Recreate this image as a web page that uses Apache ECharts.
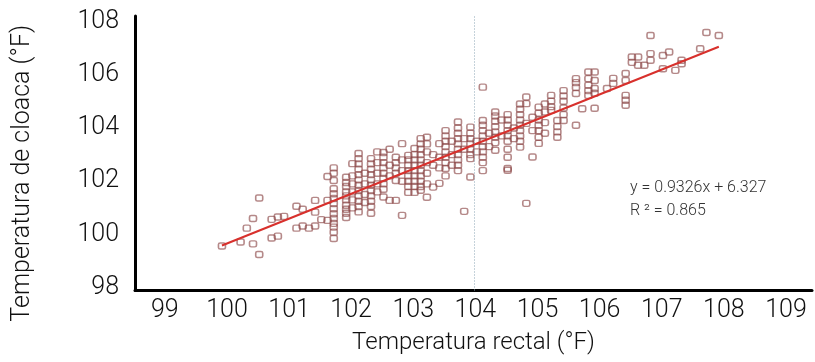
<!DOCTYPE html>
<html>
<head>
<meta charset="utf-8">
<script src="https://cdn.jsdelivr.net/npm/echarts@6/dist/echarts.min.js"></script>
<style>
html,body{margin:0;padding:0;background:#fff;}
#chart{width:815px;height:362px;}
</style>
</head>
<body>
<div id="chart"></div>
<script>
// Scatter data, grouped by rectal temperature column (°F)
const columnX = [100.0,100.3,100.4,100.5,100.6,100.8,100.9,101.0,101.2,101.3,101.4,101.5,101.6,101.7,101.8,
  102.0,102.1,102.2,102.3,102.4,102.5,102.6,102.7,102.8,102.9,103.0,103.1,103.2,103.3,103.4,103.5,103.6,103.7,
  103.8,103.9,104.0,104.1,104.2,104.3,104.4,104.5,104.6,104.7,104.8,104.9,105.0,105.1,105.2,105.3,105.4,105.5,
  105.7,105.8,105.9,106.0,106.2,106.3,106.5,106.6,106.7,106.8,106.9,107.1,107.2,107.3,107.4,107.7,107.8,108.0];
const columnY = [
  [99.57],
  [99.72],
  [100.24],
  [100.6, 99.65],
  [101.37, 99.25],
  [100.57, 99.87],
  [100.66, 99.94],
  [100.68],
  [101.06, 100.24],
  [100.95, 100.32],
  [100.24],
  [101.28, 100.84, 100.32],
  [100.56],
  [102.18, 101.28, 100.53],
  [102.5, 102.3, 102.03, 101.72, 101.53, 101.35, 101.16, 100.97, 100.78, 100.6, 100.42, 100.28, 100.09, 99.85],
  [102.15, 101.95, 101.8, 101.6, 101.45, 101.3, 101.1, 100.95, 100.8, 100.64],
  [102.66, 102.2, 101.9, 101.6, 101.3, 101.0],
  [103.04, 102.85, 102.65, 102.45, 102.25, 102.05, 101.85, 101.65, 101.45, 101.25, 101.05, 100.85],
  [102.3, 101.9, 101.5, 101.2],
  [102.85, 102.65, 102.45, 102.25, 102.05, 101.85, 101.65, 101.45, 101.25, 101.05, 100.8],
  [103.1, 102.7, 102.3, 101.9, 101.6],
  [103.08, 102.9, 102.7, 102.5, 102.3, 102.1, 101.9, 101.7, 101.41],
  [103.2, 102.6, 102.2, 101.28],
  [102.9, 102.7, 102.5, 102.3, 102.03, 101.28],
  [103.41, 102.8, 102.4, 102.0, 100.72],
  [102.97, 102.8, 102.6, 102.4, 102.2, 102.0, 101.8, 101.58],
  [103.23, 103.0, 102.8, 102.6, 102.4, 102.2, 102.0, 101.8, 101.58],
  [103.6, 103.4, 103.2, 103.0, 102.8, 102.6, 102.4, 102.2, 102.0, 101.8, 101.66],
  [103.65, 103.4, 103.1, 102.7, 102.3, 101.9, 101.4],
  [103.0, 102.6, 101.78],
  [103.41, 102.9, 102.5, 101.92],
  [103.9, 103.7, 103.5, 103.3, 103.1, 102.9, 102.7, 102.48, 102.2],
  [103.5, 103.0, 102.6],
  [104.22, 104.0, 103.8, 103.6, 103.4, 103.2, 103.0, 102.8, 102.6, 102.4],
  [103.6, 103.2, 100.87],
  [104.03, 103.8, 103.6, 103.4, 103.2, 103.0, 102.85, 102.16],
  [103.5, 103.1],
  [105.53, 104.28, 104.1, 103.9, 103.7, 103.5, 103.3, 103.1, 102.9, 102.7, 102.4],
  [103.8, 103.3],
  [104.6, 104.45, 104.25, 104.05, 103.85, 103.65, 103.45, 103.16],
  [104.3, 103.7],
  [104.5, 104.3, 104.1, 103.9, 103.7, 103.5, 103.2, 102.9, 102.48, 102.41],
  [104.0, 103.6],
  [104.9, 104.7, 104.5, 104.3, 104.1, 103.9, 103.7, 103.5, 103.28],
  [105.16, 104.91, 104.17, 101.17],
  [104.4, 103.9, 102.91],
  [104.78, 104.55, 104.3, 104.1, 103.9, 103.65, 103.42],
  [104.9, 104.6, 104.2, 103.8],
  [105.22, 105.0, 104.8, 104.66],
  [104.28, 104.05, 103.85, 103.65],
  [105.4, 105.2, 105.0, 104.75, 104.5, 104.28],
  [105.85, 105.7, 105.52, 105.29, 104.1],
  [104.72],
  [106.1, 105.85, 105.6, 105.4, 105.22],
  [106.1, 105.78, 105.48, 105.3, 104.74],
  [105.48],
  [105.86, 105.67],
  [106.04, 105.78, 105.22, 105.04, 104.85],
  [106.66, 106.46],
  [106.66, 106.35],
  [106.35],
  [107.47, 106.79, 106.54],
  [106.72, 106.22],
  [106.85],
  [106.16],
  [106.54, 106.41],
  [106.97],
  [107.58],
  [107.47]
];
// Trend line as printed on the chart
const slope = 0.9326;
const intercept = 6.327;
const trendRange = [100, 108];
const equationText = 'y = 0.9326x + 6.327';
const r2Text = 'R ² = 0.865';
const xTickLabels = [99,100,101,102,103,104,105,106,107,108,109];
const yTickLabels = [98,100,102,104,106,108];
const guideX = 104.07;

const points = [];
columnX.forEach((x, i) => columnY[i].forEach(y => points.push([x, y])));
const trend = trendRange.map(x => [x, slope * x + intercept]);

const FONT = "Roboto, 'Liberation Sans', sans-serif";
const near = (v, list) => list.find(t => Math.abs(v - t) < 1e-6);

const chart = echarts.init(document.getElementById('chart'), null, {renderer: 'canvas'});
chart.setOption({
  backgroundColor: '#ffffff',
  animation: false,
  grid: {left: 135, right: 0, top: 16, bottom: 71.5, containLabel: false},
  xAxis: {
    type: 'value', min: 98.6, max: 109.5, interval: 0.1,
    name: 'Temperatura rectal (°F)', nameLocation: 'middle', nameGap: 40,
    nameTextStyle: {fontFamily: FONT, fontWeight: 300, fontSize: 24, color: '#111'},
    axisLine: {show: true, onZero: false, lineStyle: {color: '#000', width: 3}},
    axisTick: {show: false}, splitLine: {show: false},
    axisLabel: {
      margin: 8, fontFamily: FONT, fontWeight: 300, fontSize: 25, color: '#111', padding: [0,0,0,10],
      formatter: v => { const t = near(v, xTickLabels); return t === undefined ? '' : String(t); }
    }
  },
  yAxis: {
    type: 'value', min: 97.9, max: 108.2, interval: 0.1,
    name: 'Temperatura de cloaca (°F)', nameLocation: 'middle', nameGap: 100,
    nameTextStyle: {fontFamily: FONT, fontWeight: 300, fontSize: 25, color: '#111', padding: [0, 40, 0, 0]},
    axisLine: {show: true, onZero: false, lineStyle: {color: '#000', width: 3}},
    axisTick: {show: false}, splitLine: {show: false},
    axisLabel: {
      margin: 16, fontFamily: FONT, fontWeight: 300, fontSize: 25, color: '#111',
      formatter: v => { const t = near(v, yTickLabels); return t === undefined ? '' : String(t); }
    }
  },
  series: [
    {
      type: 'scatter', data: points, symbol: 'roundRect', symbolSize: [7, 6],
      itemStyle: {color: 'rgba(255,255,255,0)', borderColor: 'rgba(140,70,70,0.8)', borderWidth: 1.5},
      markLine: {
        silent: true, symbol: 'none', label: {show: false},
        lineStyle: {color: '#8aa4b4', type: [1, 2], width: 1},
        data: [{xAxis: guideX}]
      },
      z: 2
    },
    {
      type: 'line', data: trend, showSymbol: false, symbol: 'none',
      lineStyle: {color: '#d8302c', width: 2}, z: 3
    }
  ],
  graphic: [
    {type: 'text', left: 630, top: 180, style: {text: equationText, font: "300 16px Roboto, sans-serif", fill: '#333'}},
    {type: 'text', left: 630, top: 203, style: {text: r2Text, font: "300 16px Roboto, sans-serif", fill: '#333'}}
  ]
});
</script>
</body>
</html>
